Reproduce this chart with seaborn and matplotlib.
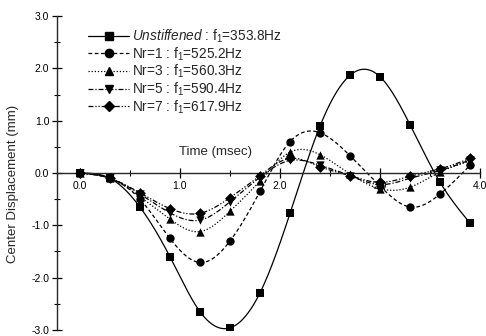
import numpy as np
import pandas as pd
import matplotlib
matplotlib.use("Agg")
import matplotlib.pyplot as plt
from matplotlib.lines import Line2D
import seaborn as sns

# Data (time in msec, displacement in mm)
time = [0.0, 0.3, 0.6, 0.9, 1.2, 1.5, 1.8, 2.1, 2.4, 2.7, 3.0, 3.3, 3.6, 3.9]
unstiffened = [0.0, -0.10, -0.65, -1.60, -2.65, -2.96, -2.29, -0.77, 0.90, 1.87, 1.84, 0.92, -0.18, -0.96]
nr1 = [0.0, -0.10, -0.50, -1.25, -1.71, -1.30, -0.35, 0.60, 0.77, 0.33, -0.25, -0.65, -0.40, 0.15]
nr3 = [0.0, -0.10, -0.45, -0.88, -1.12, -0.73, -0.15, 0.40, 0.35, -0.02, -0.30, -0.27, 0.02, 0.23]
nr5 = [0.0, -0.10, -0.40, -0.76, -0.90, -0.55, -0.08, 0.24, 0.15, -0.05, -0.22, -0.10, 0.05, 0.25]
nr7 = [0.0, -0.10, -0.38, -0.68, -0.77, -0.47, -0.05, 0.28, 0.12, -0.05, -0.18, -0.06, 0.08, 0.28]

labels = [
    r"$\mathit{Unstiffened}$ : f$_1$=353.8Hz",
    r"Nr=1 : f$_1$=525.2Hz",
    r"Nr=3 : f$_1$=560.3Hz",
    r"Nr=5 : f$_1$=590.4Hz",
    r"Nr=7 : f$_1$=617.9Hz",
]


def smooth(x, y, n=300):
    # natural cubic spline through the points, only for drawing the curve
    x = np.asarray(x, float)
    y = np.asarray(y, float)
    k = len(x)
    h = np.diff(x)
    A = np.zeros((k, k))
    b = np.zeros(k)
    A[0, 0] = A[-1, -1] = 1.0
    for i in range(1, k - 1):
        A[i, i - 1] = h[i - 1]
        A[i, i] = 2 * (h[i - 1] + h[i])
        A[i, i + 1] = h[i]
        b[i] = 6 * ((y[i + 1] - y[i]) / h[i] - (y[i] - y[i - 1]) / h[i - 1])
    M = np.linalg.solve(A, b)
    xs = np.linspace(x[0], x[-1], n)
    idx = np.clip(np.searchsorted(x, xs) - 1, 0, k - 2)
    x0, x1 = x[idx], x[idx + 1]
    hh = x1 - x0
    a = (x1 - xs) / hh
    c = (xs - x0) / hh
    ys = (a * y[idx] + c * y[idx + 1]
          + ((a ** 3 - a) * M[idx] + (c ** 3 - c) * M[idx + 1]) * hh ** 2 / 6)
    return xs, ys


sns.set_style("ticks")
plt.rcParams['font.family'] = ['Liberation Sans', 'DejaVu Sans']
plt.rcParams['mathtext.fontset'] = 'custom'
plt.rcParams['mathtext.rm'] = 'Liberation Sans'
plt.rcParams['mathtext.it'] = 'Liberation Sans:italic'

fig = plt.figure(figsize=(4.86, 3.36), dpi=100)
ax = fig.add_axes([0.117, 0.018, 0.871, 0.934])

series = [unstiffened, nr1, nr3, nr5, nr7]
styles = ['-', (0, (3, 2)), (0, (1, 1.5)), (0, (4, 1.5, 1, 1.5)), (0, (4, 1.5, 1, 1.5, 1, 1.5))]
markers = ['s', 'o', '^', 'v', 'D']
msizes = [5.5, 6, 6, 6, 5.5]

handles = []
for vals, ls, mk, ms, lab in zip(series, styles, markers, msizes, labels):
    xs, ys = smooth(time, vals)
    curve = pd.DataFrame({'t': xs, 'd': ys})
    pts = pd.DataFrame({'t': time, 'd': vals})
    sns.lineplot(data=curve, x='t', y='d', ax=ax, color='black', lw=0.9,
                 linestyle=ls, legend=False, zorder=2)
    sns.scatterplot(data=pts, x='t', y='d', ax=ax, color='black', marker=mk,
                    s=ms ** 2, edgecolor='black', linewidth=0, legend=False, zorder=3)
    handles.append(Line2D([], [], color='black', lw=0.9, linestyle=ls,
                          marker=mk, markersize=ms, label=lab))

ax.set_xlim(-0.23, 4.0)
ax.set_ylim(-3.0, 3.0)
ax.spines['top'].set_visible(False)
ax.spines['right'].set_visible(False)
ax.spines['bottom'].set_position(('data', 0.0))
ax.spines['left'].set_linewidth(1.0)
ax.spines['bottom'].set_linewidth(1.0)

ax.set_xticks([0.0, 1.0, 2.0, 3.0, 4.0])
ax.set_xticklabels(['0.0', '1.0', '2.0', '3.0', '4.0'])
ax.set_xticks([0.5, 1.5, 2.5, 3.5], minor=True)
ax.set_yticks([-3.0, -2.0, -1.0, 0.0, 1.0, 2.0, 3.0])
ax.set_yticklabels(['-3.0', '-2.0', '-1.0', '0.0', '1.0', '2.0', '3.0'])
ax.set_yticks([-2.5, -1.5, -0.5, 0.5, 1.5, 2.5], minor=True)
ax.tick_params(axis='both', which='major', direction='inout', length=7, width=0.9,
               labelsize=7.5, color='black', labelcolor='black')
ax.tick_params(axis='both', which='minor', direction='inout', length=4, width=0.8,
               color='black')
ax.tick_params(axis='x', pad=2)
ax.tick_params(axis='y', pad=2)

ax.set_xlabel('Time (msec)', fontsize=9.5)
ax.xaxis.set_label_coords(0.374, 0.585)
ax.set_ylabel('Center Displacement (mm)', fontsize=9.5)
ax.yaxis.set_label_coords(-0.09, 0.465)

ax.legend(handles=handles, loc='upper left', bbox_to_anchor=(0.055, 0.99),
          frameon=False, fontsize=9.8, handlelength=3.0, handletextpad=0.2,
          labelspacing=0.02, borderaxespad=0.2)

fig.savefig('out.png', dpi=100)
